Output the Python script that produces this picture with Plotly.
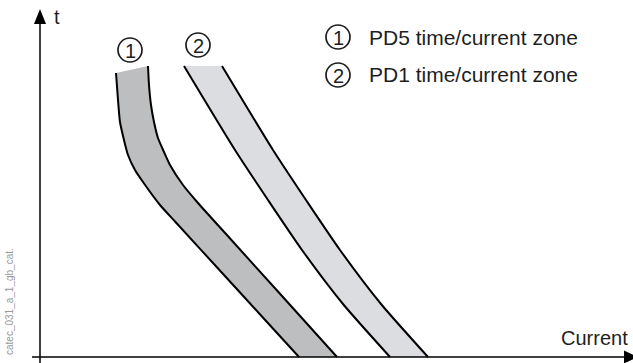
import plotly.graph_objects as go

# time/current zones, arbitrary units (current along x, time along y)
pd5_low_current = [76, 78, 80, 84, 88, 95, 103, 120, 135.5, 184, 222.4, 259]
pd5_low_time = [284, 257, 235, 217, 202, 187, 175, 152, 135, 82, 40, 0]
pd5_high_current = [108, 109, 111, 114, 118, 124, 130, 143, 158, 189.6, 238.4, 297]
pd5_high_time = [291, 272, 252, 235, 219, 205, 192, 172, 154, 119, 65, 0]

pd1_low_current = [144, 195, 228, 262, 303, 350]
pd1_high_current = [182, 233, 266, 300, 341, 388]
pd1_time = [291, 207, 157, 107, 53, 0]

legend_labels = ["PD5 time/current zone", "PD1 time/current zone"]
zone_numbers = ["1", "2"]

W, H = 633, 363
FONT = "Liberation Sans, Arial, sans-serif"
TEXT = "#1e1e1e"


def px(x):
    return x / W


def py(y):
    return 1 - y / H


def zone(fig, low_x, low_y, high_x, high_y, fill):
    fig.add_trace(go.Scatter(
        x=low_x + high_x[::-1], y=low_y + high_y[::-1],
        fill="toself", fillcolor=fill, mode="none", hoverinfo="skip"))
    for xs, ys in ((low_x, low_y), (high_x, high_y)):
        fig.add_trace(go.Scatter(
            x=xs, y=ys, mode="lines",
            line=dict(color="black", width=2, shape="spline", smoothing=0.6),
            hoverinfo="skip"))


fig = go.Figure()
zone(fig, pd5_low_current, pd5_low_time, pd5_high_current, pd5_high_time, "#bdbec0")
zone(fig, pd1_low_current, pd1_time, pd1_high_current, pd1_time, "#dcdde0")

shapes = [
    # axes
    dict(type="line", xref="x", yref="y", x0=-8, x1=590, y0=0, y1=0,
         line=dict(color="black", width=1.5)),
    dict(type="line", xref="x", yref="y", x0=0, x1=0, y0=-7, y1=334,
         line=dict(color="black", width=1.5)),
    dict(type="path", xref="x", yref="y", path="M -6,333 L 6,333 L 0,348 Z",
         fillcolor="black", line=dict(width=0)),
    dict(type="path", xref="x", yref="y", path="M 584,-6.5 L 584,6.5 L 598,0 Z",
         fillcolor="black", line=dict(width=0)),
]

annotations = [
    dict(x=px(52), y=py(17), text="t", xanchor="left", yanchor="middle"),
    dict(x=px(630), y=py(338), text="Current", xanchor="right", yanchor="middle"),
    dict(x=px(9), y=py(302), text="catec_031_a_1_gb_cat.", textangle=-90,
         font=dict(family=FONT, size=10, color="#999999"),
         xanchor="center", yanchor="middle"),
]

r = 12
circles = [(130, 50, zone_numbers[0]), (198, 45, zone_numbers[1]),
           (338, 37, zone_numbers[0]), (338, 75, zone_numbers[1])]
for cx, cy, num in circles:
    shapes.append(dict(type="circle", xref="paper", yref="paper",
                       x0=px(cx - r), x1=px(cx + r), y0=py(cy + r), y1=py(cy - r),
                       line=dict(color=TEXT, width=1.7)))
    annotations.append(dict(x=px(cx), y=py(cy + 1), text=num, xanchor="center",
                            yanchor="middle", font=dict(family=FONT, size=20, color=TEXT)))

for label, cy in zip(legend_labels, (37, 75)):
    annotations.append(dict(x=px(367), y=py(cy), text=label,
                            xanchor="left", yanchor="middle",
                            font=dict(family=FONT, size=21, color=TEXT)))

for a in annotations:
    a.setdefault("xref", "paper")
    a.setdefault("yref", "paper")
    a.setdefault("showarrow", False)
    a.setdefault("font", dict(family=FONT, size=20, color=TEXT))

fig.update_layout(
    width=W, height=H, margin=dict(l=0, r=0, t=0, b=0),
    paper_bgcolor="white", plot_bgcolor="white", showlegend=False,
    xaxis=dict(range=[-40, 593], visible=False, fixedrange=True),
    yaxis=dict(range=[-6, 357], visible=False, fixedrange=True),
    shapes=shapes, annotations=annotations,
)

fig.write_html("out.html", config={"displayModeBar": False},
               post_script="document.body.style.margin='0';")
